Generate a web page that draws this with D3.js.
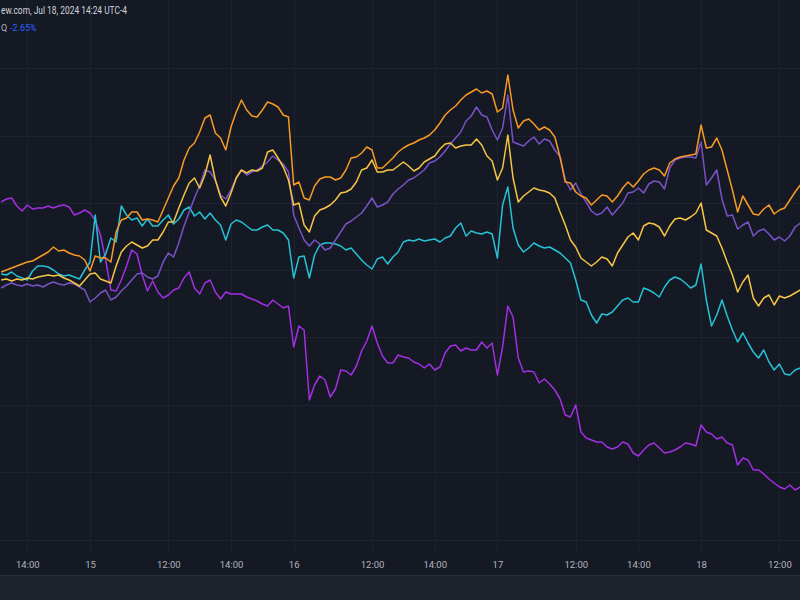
<!DOCTYPE html>
<html><head><meta charset="utf-8">
<script src="https://cdn.jsdelivr.net/npm/d3@7"></script>
<style>html,body{margin:0;padding:0;background:#151924;}svg{display:block;}</style>
</head><body><svg id="c" width="800" height="600"></svg>
<script>
// Time is in trading minutes: session day k starts at k*390 (09:30). Day 0 = Jul 12, 1 = Jul 15, ...
const sampleStart = 220;   // Jul 12 ~13:20
const sampleStep = 10;     // minutes between samples
const tickIndex  = [270, 390, 540, 660, 780, 930, 1050, 1170, 1320, 1440, 1560, 1710];
const tickLabels = ["14:00","15","12:00","14:00","16","12:00","14:00","17","12:00","14:00","18","12:00"];
const gridValues = [2.15, 1.47, 0.80, 0.13, -0.54, -1.22, -1.89, -2.57];
const headerText = "ew.com, Jul 18, 2024 14:24 UTC-4";
const symbolText = "Q";
const changeText = "-2.65%";

// % change series
const orange = [0.11,0.13,0.15,0.17,0.19,0.21,0.22,0.25,0.28,0.31,0.36,0.32,0.33,0.30,0.28,0.27,0.23,0.12,0.27,0.25,
0.25,0.21,0.51,0.63,0.65,0.71,0.71,0.63,0.64,0.63,0.61,0.73,0.85,0.97,1.05,1.23,1.35,1.40,1.51,1.65,
1.68,1.50,1.45,1.33,1.56,1.71,1.83,1.73,1.67,1.66,1.73,1.81,1.79,1.76,1.68,1.66,0.98,1.01,0.85,0.83,
0.97,1.04,1.06,1.06,1.03,1.05,1.13,1.25,1.26,1.30,1.36,1.33,1.15,1.15,1.20,1.25,1.31,1.35,1.38,1.40,
1.43,1.45,1.48,1.53,1.60,1.68,1.73,1.77,1.83,1.88,1.91,1.94,1.90,1.92,1.89,1.71,1.75,2.08,1.73,1.55,
1.62,1.64,1.59,1.53,1.56,1.53,1.46,1.26,1.01,1.00,0.91,0.87,0.85,0.78,0.83,0.88,0.87,0.81,0.87,0.95,
1.01,0.96,1.02,1.09,1.13,1.15,1.13,1.07,1.20,1.24,1.26,1.27,1.28,1.29,1.58,1.35,1.36,1.45,1.33,1.13,
0.93,0.71,0.87,0.78,0.69,0.68,0.74,0.78,0.69,0.73,0.75,0.83,0.91,0.98];
const yellow = [0.03,0.04,0.02,0.04,0.03,0.05,0.04,0.06,0.07,0.08,0.07,0.08,0.05,0.03,0.00,-0.03,0.03,0.09,0.10,0.04,
0.02,0.00,0.17,0.31,0.37,0.41,0.38,0.35,0.37,0.43,0.43,0.51,0.61,0.61,0.75,0.88,1.00,1.05,0.95,1.08,
1.28,1.03,0.86,0.77,0.90,1.05,1.13,1.10,1.13,1.12,1.15,1.31,1.33,1.25,1.16,1.03,0.78,0.80,0.58,0.51,
0.67,0.73,0.75,0.78,0.83,0.90,0.91,0.94,1.01,1.13,1.15,1.23,1.11,1.11,1.13,1.13,1.17,1.21,1.17,1.12,
1.15,1.21,1.24,1.27,1.34,1.39,1.40,1.35,1.37,1.38,1.38,1.44,1.38,1.27,1.22,1.03,1.15,1.48,1.05,0.81,
0.87,0.91,0.95,0.93,0.92,0.90,0.85,0.71,0.58,0.43,0.36,0.25,0.21,0.17,0.21,0.26,0.24,0.17,0.30,0.38,
0.46,0.50,0.43,0.57,0.60,0.59,0.56,0.47,0.57,0.64,0.65,0.63,0.66,0.70,0.80,0.53,0.50,0.47,0.35,0.21,
0.08,-0.09,0.01,0.08,-0.15,-0.23,-0.15,-0.12,-0.22,-0.13,-0.15,-0.13,-0.10,-0.07];
const cyan = [0.09,0.08,0.11,0.07,0.05,0.03,0.12,0.17,0.17,0.16,0.13,0.09,0.07,0.08,0.06,0.04,0.13,0.21,0.68,0.21,
0.29,0.45,0.41,0.77,0.68,0.63,0.65,0.57,0.64,0.57,0.57,0.63,0.68,0.59,0.64,0.73,0.76,0.67,0.71,0.64,
0.70,0.63,0.58,0.43,0.59,0.63,0.61,0.57,0.53,0.53,0.56,0.58,0.53,0.53,0.50,0.43,0.05,0.26,0.27,0.05,
0.28,0.38,0.40,0.40,0.39,0.37,0.33,0.35,0.29,0.23,0.18,0.14,0.24,0.26,0.19,0.26,0.31,0.41,0.43,0.42,
0.44,0.42,0.43,0.44,0.41,0.45,0.47,0.55,0.60,0.47,0.52,0.50,0.49,0.51,0.49,0.25,0.78,0.96,0.55,0.38,
0.31,0.35,0.40,0.37,0.35,0.36,0.33,0.30,0.25,0.20,0.03,-0.17,-0.19,-0.32,-0.40,-0.31,-0.32,-0.29,-0.23,-0.17,
-0.15,-0.19,-0.19,-0.05,-0.07,-0.10,-0.14,-0.04,0.03,0.06,0.04,0.00,-0.05,-0.02,0.19,-0.17,-0.43,-0.32,-0.17,-0.33,
-0.47,-0.59,-0.50,-0.60,-0.69,-0.75,-0.67,-0.79,-0.87,-0.81,-0.91,-0.92,-0.87,-0.85];
const purple = [-0.05,-0.02,0.00,-0.02,-0.03,-0.01,-0.03,-0.02,-0.04,-0.01,0.01,-0.01,-0.02,0.00,-0.01,-0.04,-0.07,-0.19,-0.15,-0.10,
-0.07,-0.17,-0.14,-0.08,-0.03,0.03,0.09,0.10,0.06,0.04,0.07,0.21,0.30,0.26,0.40,0.57,0.71,0.85,0.97,1.13,
1.11,1.03,0.88,0.84,0.93,1.05,1.13,1.08,1.11,1.13,1.17,1.21,1.27,1.23,1.19,1.11,0.68,0.55,0.43,0.37,
0.43,0.39,0.33,0.35,0.43,0.51,0.59,0.62,0.66,0.70,0.77,0.85,0.76,0.78,0.81,0.89,0.94,0.98,1.03,1.05,
1.09,1.13,1.20,1.22,1.26,1.32,1.39,1.45,1.51,1.62,1.67,1.76,1.68,1.66,1.53,1.43,1.55,1.88,1.41,1.39,
1.37,1.42,1.46,1.39,1.44,1.42,1.33,1.26,1.03,0.93,1.00,0.89,0.81,0.72,0.68,0.70,0.76,0.68,0.74,0.80,
0.90,0.91,0.95,0.90,0.99,1.02,1.01,0.94,1.15,1.23,1.25,1.26,1.26,1.25,1.41,0.98,1.05,1.13,0.84,0.67,
0.68,0.54,0.58,0.61,0.47,0.52,0.54,0.49,0.43,0.46,0.42,0.47,0.56,0.60];
const violet = [0.81,0.84,0.85,0.77,0.72,0.78,0.74,0.75,0.75,0.77,0.75,0.77,0.78,0.76,0.68,0.70,0.73,0.70,0.63,0.48,
0.23,-0.07,-0.08,0.03,0.17,0.33,0.29,0.08,-0.08,0.02,-0.09,-0.15,-0.12,-0.07,-0.05,0.05,0.11,-0.05,-0.11,0.00,
0.03,-0.09,-0.16,-0.09,-0.11,-0.11,-0.11,-0.14,-0.16,-0.18,-0.21,-0.23,-0.17,-0.21,-0.25,-0.23,-0.64,-0.43,-0.47,-1.17,
-1.02,-0.93,-0.97,-1.14,-1.06,-0.87,-0.88,-0.92,-0.83,-0.68,-0.58,-0.43,-0.60,-0.73,-0.80,-0.80,-0.72,-0.74,-0.75,-0.79,
-0.81,-0.85,-0.81,-0.87,-0.84,-0.70,-0.63,-0.62,-0.68,-0.65,-0.67,-0.67,-0.59,-0.65,-0.60,-0.92,-0.64,-0.23,-0.34,-0.75,
-0.89,-0.88,-0.89,-1.00,-0.96,-1.01,-1.07,-1.16,-1.32,-1.34,-1.22,-1.49,-1.55,-1.57,-1.59,-1.59,-1.64,-1.66,-1.64,-1.59,
-1.61,-1.70,-1.73,-1.67,-1.62,-1.60,-1.65,-1.70,-1.69,-1.67,-1.64,-1.60,-1.61,-1.63,-1.42,-1.49,-1.51,-1.56,-1.54,-1.60,
-1.62,-1.82,-1.75,-1.77,-1.87,-1.87,-1.91,-1.96,-2.00,-2.04,-2.06,-2.02,-2.07,-2.04];

const seriesNames  = ["violet","cyan","purple","yellow","orange"];
const seriesValues = [violet, cyan, purple, yellow, orange];
const seriesColors = ["#a22fe3","#26c2d6","#7a52c7","#f7c544","#f79a24"];

const W = 800, H = 600, plotBottom = 553;
const font = "Roboto, 'Noto Sans', sans-serif";
const svg = d3.select("#c");
svg.append("rect").attr("width", W).attr("height", H).attr("fill", "#151924");
svg.append("rect").attr("y", 575).attr("width", W).attr("height", 25).attr("fill", "#1e222d");
svg.append("line").attr("x1",0).attr("x2",W).attr("y1",575.5).attr("y2",575.5).attr("stroke","#2a2e39");

const x = d3.scaleLinear().domain([217.7, 1749.4]).range([0, W]);
const y = d3.scaleLinear().domain([-2.72, 2.83]).range([555, 0]);

// grid
svg.append("g").selectAll("line").data(tickIndex).join("line")
  .attr("x1", d => Math.round(x(d)) + 0.5).attr("x2", d => Math.round(x(d)) + 0.5)
  .attr("y1", 0).attr("y2", plotBottom).attr("stroke", "#1d2230").attr("stroke-width", 1);
svg.append("g").selectAll("line").data(gridValues).join("line")
  .attr("y1", d => Math.round(y(d)) + 0.5).attr("y2", d => Math.round(y(d)) + 0.5)
  .attr("x1", 0).attr("x2", W).attr("stroke", "#1d2230").attr("stroke-width", 1);

// lines
const n = orange.length;
const times = d3.range(n).map(i => sampleStart + i * sampleStep);
const line = d3.line().x((d, i) => x(times[i])).y(d => y(d)).curve(d3.curveLinear);
svg.append("g").selectAll("path").data(seriesValues).join("path")
  .attr("d", d => line(d)).attr("fill", "none")
  .attr("stroke", (d, i) => seriesColors[i]).attr("stroke-width", 1.5)
  .attr("stroke-linejoin", "round");

// x axis
const axis = d3.axisBottom(x).tickValues(tickIndex).tickFormat((d, i) => tickLabels[i]).tickSize(0).tickPadding(0);
const ax = svg.append("g").attr("transform", "translate(0,561)").call(axis);
ax.select(".domain").remove();
ax.selectAll("text").attr("fill", "#b2b5be").attr("font-size", "9.5px")
  .attr("font-family", font).attr("dy", "0.71em");

// header
svg.append("text").attr("x", 1).attr("y", 14)
  .attr("fill", "#d1d4dc").attr("font-size", "10.5px").attr("font-family", font)
  .attr("textLength", 126).attr("lengthAdjust", "spacingAndGlyphs")
  .text(headerText);
svg.append("text").attr("x", 1).attr("y", 31)
  .attr("fill", "#b2b5be").attr("font-size", "9px").attr("font-family", font)
  .text(symbolText);
svg.append("text").attr("x", 10).attr("y", 31)
  .attr("fill", "#2962ff").attr("font-size", "9px").attr("font-family", font)
  .text(changeText);
</script></body></html>
